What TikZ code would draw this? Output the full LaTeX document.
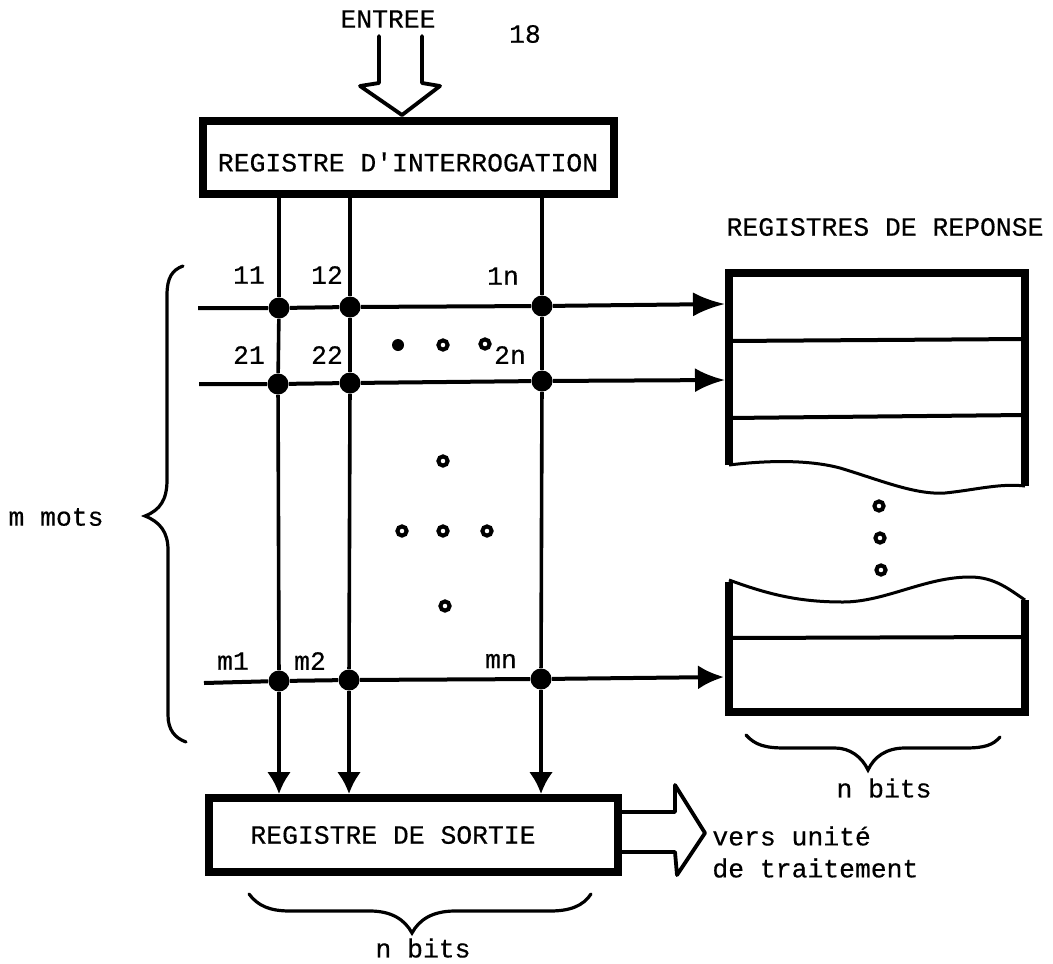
\documentclass[tikz,border=0pt]{standalone}
\usepackage{fontspec}
\setmainfont[FakeBold=0.4]{Liberation Mono}
\usetikzlibrary{arrows.meta, positioning}
\tikzset{
    font=\fontsize{13.2}{16}\selectfont,
    %
    % registers
    regBlock/.style={
        rectangle, draw=black, line width=4pt, fill=white,
        inner sep=0pt, align=center
    },
    %
    % crossing points and dots
    junction/.style={circle, fill=black, inner sep=0pt, minimum size=10.5pt},
    openDot/.style={circle, draw=black, fill=white, line width=2pt, inner sep=0pt, minimum size=4.6pt},
    solidDot/.style={circle, fill=black, inner sep=0pt, minimum size=6pt},
    %
    % lines
    busLine/.style={draw=black, line width=1.8pt},
    conn/.style={busLine, -{Latex[length=#1, width=12pt]}},
    conn/.default=11pt,
    hollowArrow/.style={draw=black, line width=1.9pt, line join=round, line cap=round},
    braceLine/.style={draw=black, line width=1.6pt, line cap=round},
    frameLine/.style={draw=black, line width=4pt, line cap=square},
    dividerLine/.style={draw=black, line width=2pt},
    waveLine/.style={draw=black, line width=1.5pt}
}
\begin{document}
\begin{tikzpicture}[x=0.5pt, y=-0.5pt]
	\useasboundingbox (0,0) rectangle (1053,963);

	%% registers
	\node (regInt) [regBlock, minimum width=205.5pt, minimum height=36.5pt] at (408.5,157.5) {};
	\node (regIntText) at (408,162) {REGISTRE D\textquotesingle INTERROGATION};
	\node (regSor) [regBlock, minimum width=204.5pt, minimum height=37pt] at (413.5,835) {};
	\node (regSorText) at (393,835) {REGISTRE DE SORTIE};

	%% crossings
	\node (j11) [junction] at (279,308) {};
	\node (j12) [junction] at (350,307) {};
	\node (j1n) [junction] at (542,306) {};
	\node (j21) [junction] at (278,384) {};
	\node (j22) [junction] at (350,383) {};
	\node (j2n) [junction] at (542,381) {};
	\node (jm1) [junction] at (279,681) {};
	\node (jm2) [junction] at (349,680) {};
	\node (jmn) [junction] at (541,679) {};

	%% free ends
	\coordinate (row1) at (198,308);
	\coordinate (row2) at (199,384);
	\coordinate (rowm) at (204,683);
	\coordinate (rep1) at (725,304);
	\coordinate (rep2) at (725,380);
	\coordinate (repm) at (724,677);

	%% columns
	\draw[busLine] (regInt.south -| j11) -- (j11);
	\draw[busLine] (regInt.south -| j12) -- (j12);
	\draw[busLine] (regInt.south -| j1n) -- (j1n);
	\draw[busLine] (j11) -- (j21);
	\draw[busLine] (j12) -- (j22);
	\draw[busLine] (j1n) -- (j2n);
	\draw[busLine] (j21) -- (jm1);
	\draw[busLine] (j22) -- (jm2);
	\draw[busLine] (j2n) -- (jmn);
	\draw[conn] (jm1) -- (regSor.north -| jm1);
	\draw[conn] (jm2) -- (regSor.north -| jm2);
	\draw[conn] (jmn) -- (regSor.north -| jmn);

	%% rows
	\draw[busLine, line width=2pt] (row1) -- (j11) -- (j12) -- (j1n);
	\draw[busLine, line width=2pt] (row2) -- (j21) -- (j22) -- (j2n);
	\draw[busLine, line width=2pt] (rowm) -- (jm1) -- (jm2) -- (jmn);
	\draw[conn=16pt, line width=2pt] (j1n) -- (rep1);
	\draw[conn=15pt, line width=2pt] (j2n) -- (rep2);
	\draw[conn=13pt, line width=2pt] (jmn) -- (repm);

	%% crossing labels
	\node (lab11) at (249,275) {11};
	\node (lab12) at (327,275) {12};
	\node (lab1n) at (503,276) {1n};
	\node (lab21) at (249,355) {21};
	\node (lab22) at (327,355) {22};
	\node (lab2n) at (510,355) {2n};
	\node (labm1) at (233,661) {m1};
	\node (labm2) at (310,661) {m2};
	\node (labmn) at (501,661) {mn};

	%% dots
	\node (dotA) [solidDot] at (398,345) {};
	\node (dotB) [openDot] at (443,345) {};
	\node (dotC) [openDot] at (485,344) {};
	\node (dotD) [openDot] at (443,461) {};
	\node (dotE) [openDot] at (402,531) {};
	\node (dotF) [openDot] at (443,531) {};
	\node (dotG) [openDot] at (487,531) {};
	\node (dotH) [openDot] at (445,606) {};
	\node (dotI) [openDot] at (879,506) {};
	\node (dotJ) [openDot] at (880,538) {};
	\node (dotK) [openDot] at (881,570) {};

	%% input arrow
	\node (entree) at (388,19) {ENTREE};
	\node (pageNum) at (525,34) {18};
	\draw[hollowArrow] (379,36) -- (379,83) -- (360,86) -- (402,115) -- (440,86) -- (422,83) -- (422,36);

	%% output arrow
	\draw[hollowArrow] (regSor.east |- 0,812) -- (675,812) -- (675,785) -- (705,833) -- (677,875) -- (675,852) -- (regSor.east |- 0,852);
	\node (versText) [anchor=west, inner sep=0pt, align=left] at (712,852) {vers unité\\[0pt]de traitement};

	%% upper response registers
	\node (repTitle) at (885,227) {REGISTRES DE REPONSE};
	\draw[frameLine] (729,465) -- (729,273) -- (1025,273) -- (1025,486);
	\draw[dividerLine] (729,341) -- (1025,339);
	\draw[dividerLine] (729,418) -- (1025,415);
	\draw[waveLine] (729,465) .. controls (770,460) and (810,460) .. (840,468) .. controls (880,480) and (915,495) .. (945,493) .. controls (975,490) and (1000,483) .. (1025,486);

	%% lower response register
	\draw[frameLine] (729,582) -- (729,712) -- (1025,712) -- (1025,600);
	\draw[dividerLine] (729,638) -- (1025,637);
	\draw[waveLine] (729,580) .. controls (770,595) and (800,602) .. (843,602) .. controls (885,602) and (925,577) .. (970,577) .. controls (995,577) and (1010,590) .. (1025,600);

	%% braces
	\draw[braceLine] (183,266) .. controls (172,270) and (167,278) .. (167,295) -- (167,480) .. controls (167,500) and (160,510) .. (145,516) .. controls (160,522) and (168,532) .. (168,550) -- (168,715) .. controls (168,730) and (175,738) .. (186,742);
	\node (mMots) at (56,517) {m mots};
	\draw[braceLine] (746,735) .. controls (755,745) and (765,748) .. (785,748) -- (835,748) .. controls (850,748) and (862,757) .. (868,770) .. controls (874,757) and (886,748) .. (905,748) -- (965,748) .. controls (985,748) and (993,745) .. (1000,737);
	\node (bitsRep) at (884,788) {n bits};
	\draw[braceLine] (249,894) .. controls (258,906) and (270,911) .. (290,911) -- (370,911) .. controls (392,911) and (405,920) .. (412,933) .. controls (419,920) and (432,911) .. (455,911) -- (550,911) .. controls (570,911) and (583,906) .. (591,894);
	\node (bitsSor) at (423,948) {n bits};

\end{tikzpicture}
\end{document}
